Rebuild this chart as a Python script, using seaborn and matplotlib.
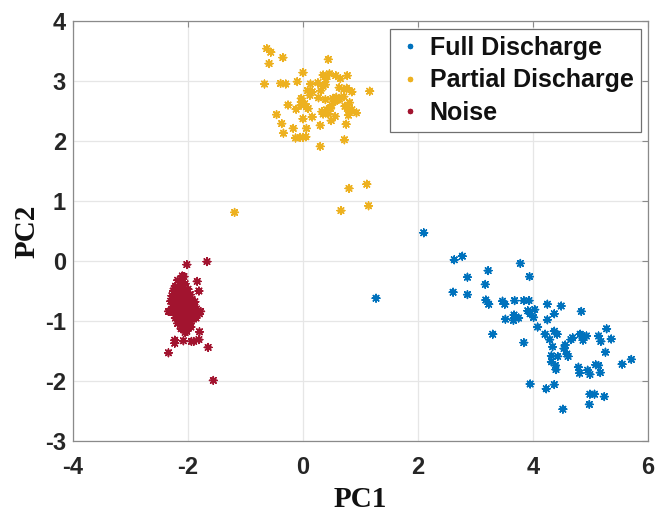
import numpy as np
import pandas as pd
import matplotlib
matplotlib.use("Agg")
import matplotlib.pyplot as plt
import seaborn as sns

# ---------------- data ----------------
full_x = [2.10, 2.63, 2.77, 3.78, 3.22, 3.94, 2.86, 3.17, 2.61, 2.86, 3.18, 3.23, 3.47, 3.51,
          3.68, 3.84, 3.93, 4.25, 4.49, 4.84, 4.03, 3.91, 3.95, 4.01, 4.37, 3.67, 3.75, 3.52,
          3.66, 4.25, 4.08, 4.37, 4.42, 4.21, 3.30, 4.82, 4.85, 4.93, 5.28, 5.14, 5.36, 5.18,
          4.69, 4.66, 4.87, 4.29, 3.84, 4.56, 4.34, 4.54, 5.26, 4.59, 4.61, 4.32, 4.43, 5.71,
          5.55, 4.32, 4.39, 4.40, 5.09, 5.14, 4.79, 4.95, 4.81, 4.99, 5.17, 3.95, 4.37, 4.23,
          4.99, 5.07, 5.24, 4.98, 4.52, 1.27]
full_y = [0.47, 0.02, 0.08, -0.04, -0.16, -0.26, -0.27, -0.39, -0.52, -0.56, -0.65, -0.72, -0.67, -0.72,
          -0.66, -0.66, -0.66, -0.72, -0.75, -0.84, -0.81, -0.83, -0.88, -0.94, -0.88, -0.90, -0.95, -0.97,
          -0.99, -0.98, -1.10, -1.17, -1.22, -1.22, -1.22, -1.22, -1.24, -1.25, -1.13, -1.25, -1.30, -1.34,
          -1.28, -1.31, -1.32, -1.31, -1.36, -1.40, -1.43, -1.46, -1.52, -1.55, -1.59, -1.58, -1.59, -1.64,
          -1.72, -1.68, -1.74, -1.81, -1.73, -1.74, -1.77, -1.82, -1.87, -1.89, -1.86, -2.05, -2.06, -2.13,
          -2.22, -2.22, -2.26, -2.39, -2.47, -0.62]

partial_x = [-0.63, -0.56, -0.35, -0.59, 0.44, 0.00, -0.67, -0.39, -0.30, -0.10, 0.13, 0.26, 0.35, 0.40,
             0.46, 0.57, 0.65, 0.77, 0.35, 0.39, 0.31, 0.63, 0.71, 0.76, 0.85, 1.16, 0.08, 0.16,
             0.12, 0.27, 0.39, -0.03, -0.03, -0.03, 0.03, 0.06, 0.09, -0.26, -0.12, 0.52, 0.58, 0.61,
             0.55, 0.50, 0.48, 0.41, 0.33, 0.35, 0.44, 0.64, 0.71, 0.81, 0.73, 0.77, 0.85, 0.93,
             0.56, 0.49, 0.79, 0.00, 0.16, -0.46, -0.37, -0.17, 0.06, 0.30, 0.75, -0.34, -0.13, -0.05,
             0.00, 0.05, 0.72, 0.30, -1.19, 0.80, 1.11, 0.66, 1.14]
partial_y = [3.54, 3.48, 3.39, 3.29, 3.36, 3.14, 2.95, 2.96, 2.95, 2.99, 2.95, 2.97, 3.10, 3.03,
             3.12, 3.09, 3.04, 3.09, 2.91, 2.94, 2.84, 2.89, 2.86, 2.88, 2.82, 2.83, 2.84, 2.82,
             2.76, 2.72, 2.69, 2.71, 2.65, 2.60, 2.62, 2.57, 2.54, 2.60, 2.53, 2.71, 2.73, 2.69,
             2.66, 2.60, 2.54, 2.52, 2.49, 2.45, 2.45, 2.70, 2.74, 2.64, 2.58, 2.54, 2.52, 2.47,
             2.41, 2.34, 2.43, 2.37, 2.40, 2.44, 2.29, 2.21, 2.21, 2.26, 2.28, 2.13, 2.05, 2.06,
             2.06, 2.07, 2.02, 1.91, 0.81, 1.21, 1.28, 0.84, 0.92]

noise_x = [-2.02, -1.67, -2.10, -2.07, -1.84, -1.81, -2.24, -2.34, -1.78, -1.88, -2.23, -2.23,
           -2.08, -1.94, -1.90, -1.81, -1.80, -2.05, -2.02, -1.65, -2.34, -1.56, -1.95, -2.09,
           -2.18, -2.12, -2.05, -2.22, -2.15, -2.08, -2.00, -2.25, -2.18, -2.10, -2.03, -1.96,
           -2.28, -2.21, -2.14, -2.07, -2.00, -1.93, -2.30, -2.24, -2.17, -2.10, -2.04, -1.97,
           -1.90, -2.27, -2.20, -2.13, -2.06, -1.99, -1.92, -1.85, -2.32, -2.25, -2.18, -2.11,
           -2.04, -1.97, -1.88, -1.80, -2.22, -2.15, -2.08, -2.01, -1.94, -1.86, -2.18, -2.10,
           -2.03, -1.96, -2.12, -2.05]
noise_y = [-0.06, -0.01, -0.25, -0.26, -0.34, -0.50, -0.46, -0.84, -0.84, -0.68, -1.32, -1.37,
           -1.33, -1.34, -1.34, -1.31, -1.18, -1.19, -1.17, -1.44, -1.53, -1.99, -1.10, -1.12,
           -0.32, -0.35, -0.38, -0.42, -0.44, -0.45, -0.47, -0.50, -0.52, -0.53, -0.55, -0.56,
           -0.58, -0.60, -0.61, -0.62, -0.63, -0.64, -0.67, -0.68, -0.69, -0.70, -0.71, -0.72,
           -0.73, -0.76, -0.77, -0.78, -0.79, -0.80, -0.81, -0.80, -0.84, -0.86, -0.87, -0.88,
           -0.89, -0.90, -0.89, -0.88, -0.95, -0.96, -0.97, -0.98, -0.97, -0.95, -1.04, -1.05,
           -1.06, -1.04, -1.13, -1.15]

classes = ["Full Discharge", "Partial Discharge", "Noise"]
colors = ["#0072BD", "#EDB120", "#A2142F"]
x_ticks = [-4, -2, 0, 2, 4, 6]
y_ticks = [-3, -2, -1, 0, 1, 2, 3, 4]

df = pd.DataFrame({
    "PC1": full_x + partial_x + noise_x,
    "PC2": full_y + partial_y + noise_y,
    "cls": [classes[0]] * len(full_x) + [classes[1]] * len(partial_x) + [classes[2]] * len(noise_x),
})

# ---------------- plot ----------------
sns.set_theme(style="white")
plt.rcParams["font.family"] = ["Liberation Sans", "DejaVu Sans"]
plt.rcParams["axes.unicode_minus"] = False

fig = plt.figure(figsize=(6.57, 5.12), dpi=100)
ax = fig.add_axes([73 / 657, 1 - 441 / 512, 575 / 657, 420 / 512])

asterisk = (8, 2, 0)
sns.scatterplot(data=df, x="PC1", y="PC2", hue="cls", hue_order=classes,
                palette=colors, marker=asterisk, s=30, linewidth=1.1, ax=ax, zorder=3)

ax.set_xlim(-4, 6)
ax.set_ylim(-3, 4)
ax.set_xticks(x_ticks)
ax.set_yticks(y_ticks)
ax.grid(True, color="#e6e6e6", linewidth=0.9, zorder=0)
ax.set_axisbelow(True)

for sp in ax.spines.values():
    sp.set_color("#8a8a8a")
    sp.set_linewidth(0.9)
ax.tick_params(direction="in", length=4, width=0.8, color="#8a8a8a",
               top=True, right=True, labelsize=17, labelcolor="#262626")
ax.tick_params(axis="x", pad=11)
ax.tick_params(axis="y", pad=5)
for lab in ax.get_xticklabels() + ax.get_yticklabels():
    lab.set_fontweight("bold")

ax.set_xlabel("PC1", fontfamily="Liberation Serif", fontweight="bold", fontsize=21,
              color="#111111", labelpad=5)
ax.set_ylabel("PC2", fontfamily="Liberation Serif", fontweight="bold", fontsize=21,
              color="#111111", labelpad=3)

handles, labels = ax.get_legend_handles_labels()
leg = ax.legend(handles, labels, loc="upper right", prop={"weight": "bold", "size": 18},
                frameon=True, fancybox=False, edgecolor="#707070", framealpha=1,
                handlelength=1.0, handletextpad=0.3, borderpad=0.28, labelspacing=0.35,
                borderaxespad=0.3, markerscale=0.7)
leg.get_frame().set_linewidth(0.9)
for t in leg.get_texts():
    t.set_color("#111111")

fig.savefig("out.png", dpi=100)
